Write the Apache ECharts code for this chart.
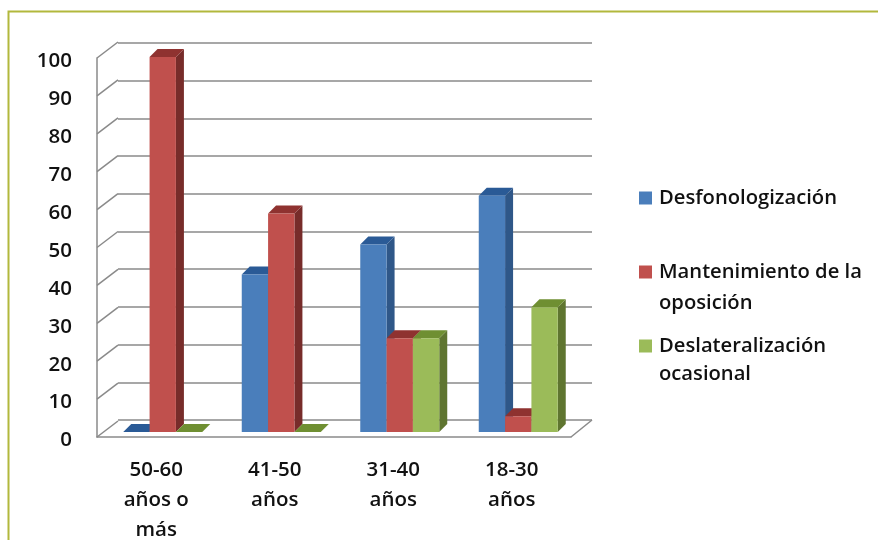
<!DOCTYPE html>
<html>
<head>
<meta charset="utf-8">
<style>html,body{margin:0;padding:0;background:#fff}#chart{width:878px;height:540px}</style>
<script src="https://cdn.jsdelivr.net/npm/echarts@6/dist/echarts.min.js"></script>
</head>
<body>
<div id="chart"></div>
<script>
// Age groups and the percentage of speakers in each phonological pattern
const categories = ['50-60\naños o\nmás', '41-50\naños', '31-40\naños', '18-30\naños'];
const desfonologizacion = [0, 42, 50, 63];
const mantenimiento = [100, 58.3, 25, 4.2];
const deslateralizacion = [0, 0, 25, 33.3];
const yTicks = [0, 10, 20, 30, 40, 50, 60, 70, 80, 90, 100];
const seriesNames = ['Desfonologización', 'Mantenimiento de la oposición', 'Deslateralización ocasional'];
const legendFirstLines = ['Desfonologización', 'Mantenimiento de la', 'Deslateralización'];
const legendSecondLines = ['', 'oposición', 'ocasional'];

const FONT = 'Open Sans';
const TEXT = '#111111';
const GRID_LINE = '#8a8a8a';
const FACES = [
  { front: '#4a7ebb', side: '#2f5788', top: '#2a5a96' },
  { front: '#c0504d', side: '#772c2a', top: '#8f3230' },
  { front: '#9bbb59', side: '#5f7530', top: '#6f8f32' }
];
const BAR_RATIO = 0.2222;
const DEPTH_X = 8, DEPTH_Y = 8;
const WALL_X = 21, WALL_Y = 16;

// One extruded box: front, top and right faces
function barRenderer(index) {
  return function (params, api) {
    const band = api.size([1, 0])[0];
    const w = band * BAR_RATIO;
    const base = api.coord([api.value(0), 0]);
    const tip = api.coord([api.value(0), api.value(1)]);
    const x0 = base[0] + (index - 1.5) * w;
    const x1 = x0 + w;
    const y0 = base[1], y1 = tip[1];
    const poly = (points, fill) => ({
      type: 'polygon', shape: { points }, style: { fill, stroke: null }
    });
    return {
      type: 'group',
      children: [
        poly([[x1, y0], [x1 + DEPTH_X, y0 - DEPTH_Y], [x1 + DEPTH_X, y1 - DEPTH_Y], [x1, y1]], FACES[index].side),
        poly([[x0, y1], [x0 + DEPTH_X, y1 - DEPTH_Y], [x1 + DEPTH_X, y1 - DEPTH_Y], [x1, y1]], FACES[index].top),
        poly([[x0, y0], [x1, y0], [x1, y1], [x0, y1]], FACES[index].front)
      ]
    };
  };
}

// Short slanted strokes joining the front axis to the back wall
function wallConnector(params, api) {
  const p = api.coord([0, api.value(0)]);
  const x = p[0] - api.size([1, 0])[0] / 2;
  return {
    type: 'line',
    shape: { x1: x, y1: p[1], x2: x + WALL_X, y2: p[1] - WALL_Y },
    style: { stroke: GRID_LINE, lineWidth: 1.5 }
  };
}

function floorEdge(params, api) {
  const p = api.coord([categories.length - 1, 0]);
  const x = p[0] + api.size([1, 0])[0] / 2;
  return {
    type: 'line',
    shape: { x1: x, y1: p[1], x2: x + WALL_X, y2: p[1] - WALL_Y - 1 },
    style: { stroke: GRID_LINE, lineWidth: 1.5 }
  };
}

const barValues = [desfonologizacion, mantenimiento, deslateralizacion];
const legendTops = [188, 262, 336];
const secondLineY = [0, 303, 374];

const hiddenAxis = { show: false };

const option = {
  animation: false,
  backgroundColor: '#ffffff',
  grid: [
    { left: 97, width: 474, top: 58, height: 379, outerBoundsMode: 'none' },   // front plane: axis labels
    { left: 103.5, width: 474, top: 57, height: 375, outerBoundsMode: 'none' }, // plane holding the bars
    { left: 118, width: 474, top: 43, height: 377, outerBoundsMode: 'none' }    // back wall: gridlines
  ],
  xAxis: [
    {
      gridIndex: 0, type: 'category', data: categories,
      axisTick: { show: false },
      axisLine: { lineStyle: { color: GRID_LINE, width: 1.5 } },
      axisLabel: { color: TEXT, fontFamily: FONT, fontSize: 20.5, fontWeight: 600, lineHeight: 30, margin: 18, interval: 0 }
    },
    { gridIndex: 1, type: 'category', data: categories, ...hiddenAxis },
    { gridIndex: 2, type: 'category', data: categories, ...hiddenAxis }
  ],
  yAxis: [
    {
      gridIndex: 0, type: 'value', min: 0, max: 100, interval: 10,
      axisLine: { show: true, lineStyle: { color: GRID_LINE, width: 1.5 } },
      axisTick: { show: false },
      splitLine: { show: false },
      axisLabel: {
        margin: 25,
        formatter: '{v|{value}}',
        rich: { v: { color: TEXT, fontFamily: FONT, fontSize: 20.5, fontWeight: 600, padding: [7, 0, 0, 0] } }
      }
    },
    { gridIndex: 1, type: 'value', min: 0, max: 100, interval: 10, ...hiddenAxis },
    {
      gridIndex: 2, type: 'value', min: 0, max: 100, interval: 10,
      axisLine: { show: false }, axisTick: { show: false }, axisLabel: { show: false },
      splitLine: { show: true, lineStyle: { color: GRID_LINE, width: 1.5 } }
    }
  ],
  legend: seriesNames.map((name, i) => ({
    data: [name],
    orient: 'vertical',
    left: 639,
    top: legendTops[i],
    padding: 0,
    itemWidth: 13,
    itemHeight: 13,
    icon: 'rect',
    selectedMode: false,
    formatter: () => '{t|' + legendFirstLines[i] + '}',
    textStyle: {
      rich: { t: { color: TEXT, fontFamily: FONT, fontSize: 20.2, fontWeight: 600, padding: [0, 0, 0, 2] } }
    }
  })),
  series: [
    {
      type: 'custom', name: 'connectors', xAxisIndex: 0, yAxisIndex: 0, z: 1,
      data: yTicks.map(v => [v]), encode: { y: 0 }, renderItem: wallConnector, silent: true
    },
    {
      type: 'custom', name: 'floor', xAxisIndex: 0, yAxisIndex: 0, z: 1,
      data: [[0]], renderItem: floorEdge, silent: true
    },
    ...seriesNames.map((name, i) => ({
      type: 'custom',
      name,
      xAxisIndex: 1,
      yAxisIndex: 1,
      z: 3 + i,
      itemStyle: { color: FACES[i].front },
      clip: false,
      encode: { x: 0, y: 1 },
      data: barValues[i].map((v, c) => [c, v]),
      renderItem: barRenderer(i)
    }))
  ],
  graphic: [
    {
      type: 'polyline',
      shape: { points: [[8.5, 540], [8.5, 11.5], [878, 11.5]] },
      style: { stroke: '#b2b83c', lineWidth: 2, fill: null }
    },
    ...legendSecondLines.map((text, i) => text ? ({
      type: 'text',
      x: 659,
      y: secondLineY[i],
      style: { text, fill: TEXT, fontFamily: FONT, fontSize: 20.2, fontWeight: 600, verticalAlign: 'middle' }
    }) : null).filter(Boolean)
  ]
};

echarts.init(document.getElementById('chart')).setOption(option);
</script>
</body>
</html>
